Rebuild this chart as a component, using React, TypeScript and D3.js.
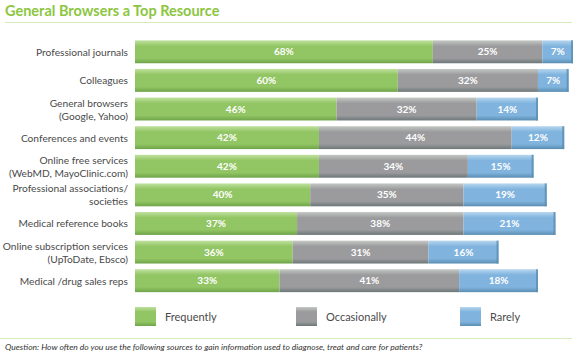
import React from "react";
import * as d3 from "d3";

const categories: string[][] = [
  ["Professional journals"],
  ["Colleagues"],
  ["General browsers", "(Google, Yahoo)"],
  ["Conferences and events"],
  ["Online free services", "(WebMD, MayoClinic.com)"],
  ["Professional associations/", "societies"],
  ["Medical reference books"],
  ["Online subscription services", "(UpToDate, Ebsco)"],
  ["Medical /drug sales reps"],
];

const frequently = [68, 60, 46, 42, 42, 40, 37, 36, 33];
const occasionally = [25, 32, 32, 44, 34, 35, 38, 31, 41];
const rarely = [7, 7, 14, 12, 15, 19, 21, 16, 18];

const seriesNames = ["Frequently", "Occasionally", "Rarely"];

// top / mid / bottom shades for the bar gradients
const palette = [
  { id: "gGreen", top: "#bfe19e", mid: "#92c563", bot: "#6ea449" },
  { id: "gGray", top: "#c4c8c4", mid: "#9b9b9d", bot: "#6d7778" },
  { id: "gBlue", top: "#b7d6ef", mid: "#80b4de", bot: "#5a8db2" },
];

const W = 577;
const H = 354;
const FONT = "Lato, 'Open Sans', sans-serif";

export default function App() {
  const rows = categories.map((c, i) => ({
    key: c.join(" "),
    lines: c,
    values: [frequently[i], occasionally[i], rarely[i]],
  }));

  const x = d3.scaleLinear().domain([0, 100]).range([135, 573]);
  const y = d3
    .scaleBand<string>()
    .domain(rows.map((r) => r.key))
    .range([37.5, 295])
    .paddingInner(0.2)
    .paddingOuter(0.1);

  const legendX = [135, 296, 460];

  return (
    <svg width={W} height={H} style={{ position: "absolute", left: 0, top: 0, display: "block", background: "#fff" }}>
      <defs>
        {palette.map((p) => (
          <linearGradient key={p.id} id={p.id} x1="0" y1="0" x2="0" y2="1">
            <stop offset="0" stopColor={p.top} />
            <stop offset="0.25" stopColor={p.mid} />
            <stop offset="0.78" stopColor={p.mid} />
            <stop offset="1" stopColor={p.bot} />
          </linearGradient>
        ))}
      </defs>

      {/* title */}
      <text x={5} y={15.5} fontFamily={FONT} fontSize={14.5} fontWeight={700} fill="#8cc63f">
        General Browsers a Top Resource
      </text>
      <line x1={5} x2={572} y1={22.5} y2={22.5} stroke="#d4ecbc" strokeWidth={1} />

      {/* bars */}
      {rows.map((r) => {
        const y0 = y(r.key)!;
        const bh = y.bandwidth();
        let acc = 0;
        const n = r.lines.length;
        return (
          <g key={r.key}>
            {r.lines.map((ln, li) => (
              <text
                key={li}
                x={128}
                y={y0 + bh / 2 + 4 + (li - (n - 1) / 2) * 13}
                textAnchor="end"
                fontFamily={FONT}
                fontSize={10.2}
                fill="#4a4a4a"
              >
                {ln}
              </text>
            ))}
            {r.values.map((v, si) => {
              const x0 = x(acc);
              acc += v;
              const x1 = x(acc);
              return (
                <g key={si}>
                  <rect x={x0} y={y0} width={x1 - x0} height={bh} fill={`url(#${palette[si].id})`} />
                  {si === 2 && <rect x={x1 - 2} y={y0} width={2} height={bh} fill={palette[si].bot} opacity={0.8} />}
                  <text
                    x={(x0 + x1) / 2}
                    y={y0 + bh / 2 + 3.5}
                    textAnchor="middle"
                    fontFamily={FONT}
                    fontSize={10}
                    fontWeight={700}
                    fill="#fff"
                  >
                    {v}%
                  </text>
                </g>
              );
            })}
          </g>
        );
      })}

      {/* legend */}
      {seriesNames.map((s, i) => (
        <g key={s}>
          <rect x={legendX[i]} y={307} width={21} height={19} fill={`url(#${palette[i].id})`} />
          <text x={legendX[i] + 30} y={321} fontFamily={FONT} fontSize={11} fill="#4a4a4a">
            {s}
          </text>
        </g>
      ))}

      <line x1={0} x2={572} y1={338.5} y2={338.5} stroke="#d4ecbc" strokeWidth={1} />
      <text x={5} y={350} fontFamily={FONT} fontSize={8.5} fontStyle="italic" fill="#333">
        Question: How often do you use the following sources to gain information used to diagnose, treat and care for patients?
      </text>
    </svg>
  );
}
